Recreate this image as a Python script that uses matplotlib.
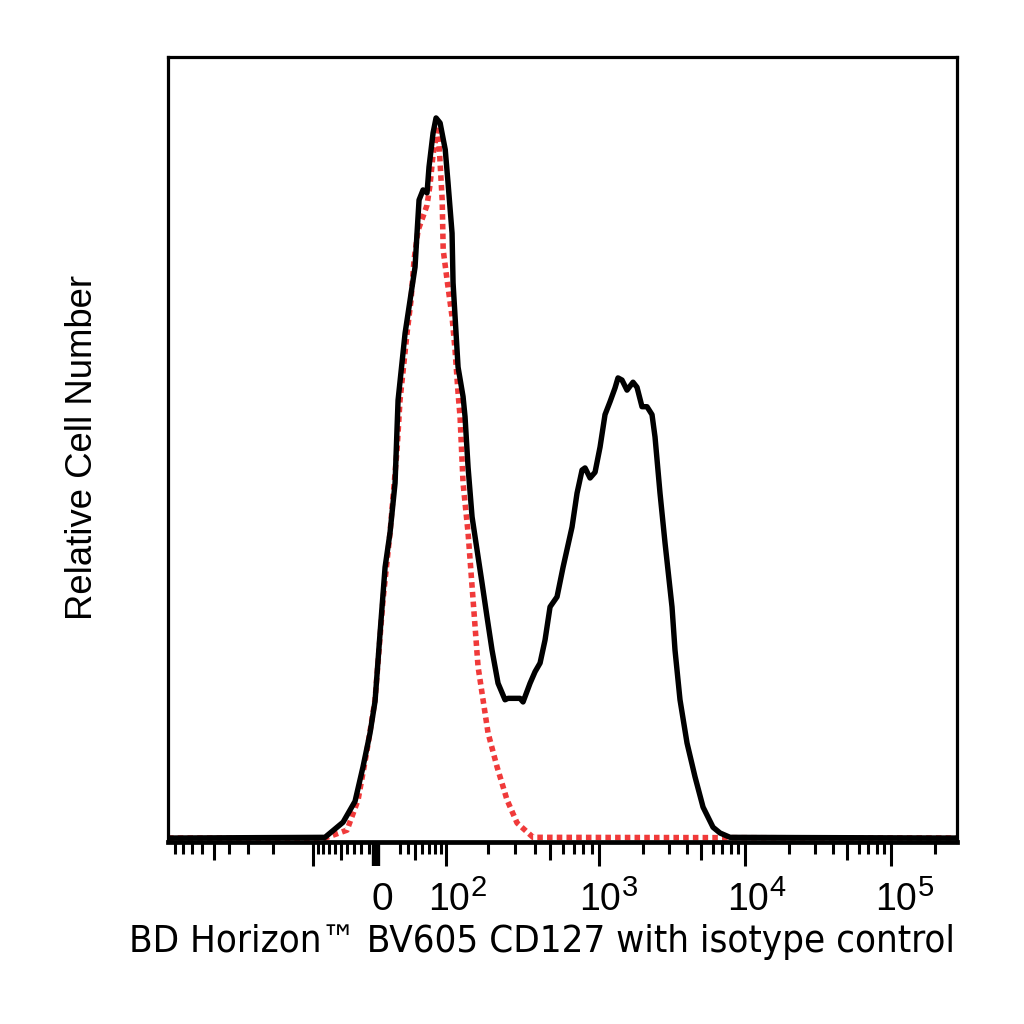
import numpy as np
import matplotlib
matplotlib.use('Agg')
import matplotlib.pyplot as plt
from matplotlib import font_manager
from matplotlib.transforms import ScaledTranslation, blended_transform_factory

plt.rcParams['font.family'] = ['Liberation Sans', 'DejaVu Sans']

# BV605 CD127 stained cells (black) - fluorescence value / % of mode
cd127_x = [-1000, -76.8, -46.6, -28.9, -17.7, -8.1, -1.35, 4.9, 11.0, 17.1, 23.4, 27.2,
           36.3, 43.0, 49.9, 52.7, 55.6, 61.5, 67.6, 70.7, 77.2, 82.2, 89.2, 98.5,
           103.7, 111.5, 113.5, 119.6, 123.8, 134.7, 139.2, 146.3, 156.1, 169.0,
           182.8, 197.4, 213.1, 233.3, 259.0, 270.8, 323.0, 337.5, 373.6, 401.6,
           431.6, 463.6, 498.1, 550.5, 599.7, 681.7, 731.9, 785.8, 819.9, 880.3,
           944.9, 1016, 1099, 1190, 1287, 1349, 1437, 1555, 1710, 1821, 1970, 2132,
           2307, 2419, 2617, 2832, 3162, 3315, 3587, 4006, 4545, 5157, 6036, 6743,
           7892, 283000]
cd127_y = [0, 0.1, 2.2, 5.1, 9.9, 14.6, 19.0, 28.5, 37.6, 42.4, 49.3, 60.8,
           70.1, 74.7, 79.3, 84.0, 88.6, 90.0, 89.6, 93.2, 97.9, 100.0, 99.3, 95.6,
           91.0, 84.0, 77.1, 70.1, 65.4, 61.3, 58.5, 51.5, 44.6, 40.0,
           35.4, 30.7, 26.1, 21.5, 19.2, 19.4, 19.4, 18.9, 21.5, 23.1,
           24.3, 27.5, 32.1, 33.5, 37.6, 43.2, 47.9, 51.1, 51.4, 50.0,
           50.8, 54.3, 58.8, 60.6, 62.5, 63.9, 63.6, 62.2, 63.3, 62.6, 59.9, 59.9,
           58.8, 55.7, 47.9, 41.0, 32.1, 26.1, 19.2, 13.2, 8.5, 4.3, 1.5, 0.7,
           0.1, 0]

# isotype control (red dotted)
iso_x = [-1000, -76.8, -40.6, -24.6, -12.2, -1.35, 8.5, 17.1, 25.9, 29.7, 38.9,
         44.3, 48.5, 54.2, 61.5, 67.6, 72.3, 77.2, 84.0, 87.4, 92.9, 94.7, 101.9,
         111.5, 117.5, 123.8, 128.1, 134.7, 146.3, 158.6, 171.7, 185.6, 200.5,
         229.8, 266.8, 309.2, 390.1, 283000]
iso_y = [0, 0, 1.1, 5.3, 12.2, 19.2, 33.1, 42.4, 53.9, 60.8, 70.1,
         74.7, 80.3, 84.4, 86.3, 87.9, 90.7, 94.9, 98.3, 96.3, 88.6, 81.7, 77.5,
         72.4, 67.8, 61.8, 58.5, 49.3, 42.4, 33.1, 23.8, 19.2, 14.6,
         9.9, 5.3, 2.1, 0.1, 0]

major_ticks = [-100, 0, 100, 1e3, 1e4, 1e5]
power_ticks = [100, 1e3, 1e4, 1e5]
power_exps = ['2', '3', '4', '5']

# biexponential-like display scale: anchor values and their display channel
scale_vals = np.array([-1e4, -1e3, -100, 0, 100, 1e3, 1e4, 1e5, 1e6, 1e7])
scale_chan = np.array([23, 168, 313, 376, 446, 599, 745, 891, 1037, 1183])
W = 85.0
scale_u = np.arcsinh(scale_vals / W)


def fwd(x):
    return np.interp(np.arcsinh(np.asarray(x, dtype=float) / W), scale_u, scale_chan)


def inv(c):
    return W * np.sinh(np.interp(np.asarray(c, dtype=float), scale_chan, scale_u))


fig = plt.figure(figsize=(10.24, 10.24), dpi=100)
ax = fig.add_axes([0.1641, 0.178, 0.7705, 0.7664])
ax.set_xscale('function', functions=(fwd, inv))

ax.plot(iso_x, iso_y, color='#f03a3a', lw=4.0, linestyle=(0, (1.0, 0.75)),
        dash_capstyle='butt', zorder=2)
ax.plot(cd127_x, cd127_y, color='black', lw=3.9, zorder=3,
        solid_joinstyle='round', solid_capstyle='round')

ax.set_xlim(-1000, 283000)
ax.set_ylim(-0.51, 108.47)

for side in ['top', 'left', 'right']:
    ax.spines[side].set_linewidth(2.3)
ax.spines['bottom'].set_linewidth(3.4)
ax.set_yticks([])

# minor ticks
minor = []
for d in [1e2, 1e3, 1e4]:
    minor += [-m * d for m in range(2, 10) if m * d <= 1000]
minor += [-m * 10 for m in range(1, 10)]
minor += [m * 10 for m in range(3, 10)]
for d in [1e2, 1e3, 1e4, 1e5]:
    minor += [m * d for m in range(2, 10) if m * d < 283000]

ax.set_xticks(major_ticks)
ax.set_xticklabels([])
ax.set_xticks(minor, minor=True)
ax.tick_params(axis='x', which='major', direction='out', length=17, width=2.2)
ax.tick_params(axis='x', which='minor', direction='out', length=8.3, width=2.2)

for t, v in zip(ax.xaxis.get_minor_ticks(), minor):
    m = abs(v) / 10 ** np.floor(np.log10(abs(v)))
    if abs(m - 5) < 1e-6:
        t.tick1line.set_markersize(12.6)
for t, v in zip(ax.xaxis.get_major_ticks(), major_ticks):
    if v == 0:
        t.tick1line.set_markeredgewidth(6)

# tick labels: "0" and 10 with a large superscript
trans = blended_transform_factory(ax.transData, ax.transAxes)
y_base = -(910 - 841.7) / 784.8


def shifted(dx):
    return trans + ScaledTranslation(dx / 100, 0, fig.dpi_scale_trans)


ax.text(0, y_base, '0', transform=shifted(6.5), ha='center', va='baseline',
        fontsize=28, clip_on=False)
for v, e, dx in zip(power_ticks, power_exps, [3, 1, 3, 5]):
    base = ax.text(v, y_base, '10', transform=shifted(dx), ha='center', va='baseline',
                   fontsize=27, clip_on=False)
    ax.annotate(e, xy=(1.0, 0.62), xycoords=base, xytext=(0.5, 0),
                textcoords='offset points', ha='left', va='baseline',
                fontsize=21, annotation_clip=False)

# x label font: condensed look
cond = font_manager.FontProperties(family='DejaVu Sans', stretch='condensed', size=27.5)
path = font_manager.findfont(cond)
if 'Condensed' not in path:
    cond = font_manager.FontProperties(family='DejaVu Sans', size=24.5)

fig.text(542 / 1024, 1 - 952 / 1024, 'BD Horizon\u2122 BV605 CD127 with isotype control',
         ha='center', va='baseline', fontproperties=cond)
fig.text(83 / 1024, 1 - 447 / 1024, 'Relative Cell Number', rotation=90,
         ha='center', va='center', fontsize=26.3)

fig.savefig('out.png', dpi=100)
